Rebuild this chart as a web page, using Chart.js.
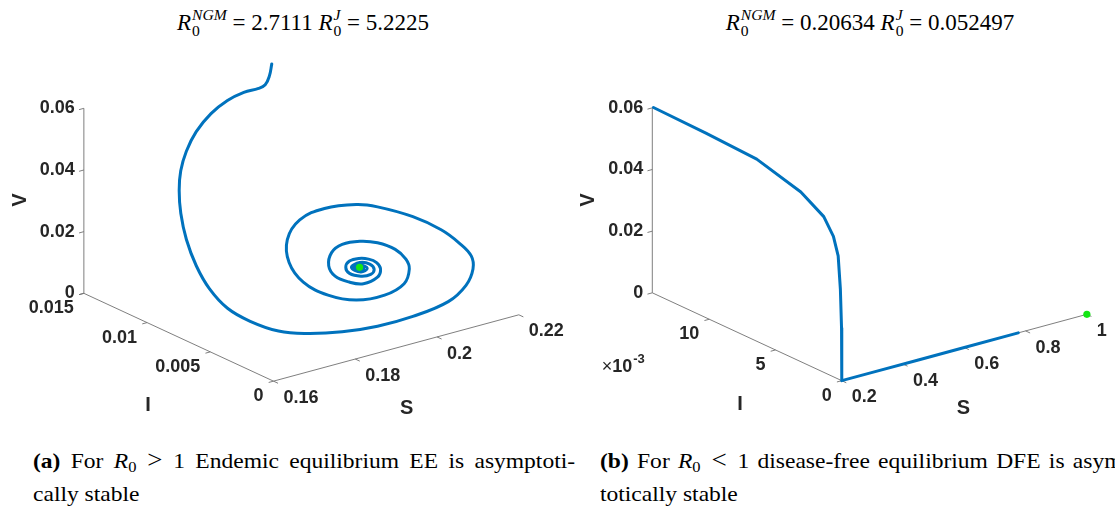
<!DOCTYPE html>
<html>
<head>
<meta charset="utf-8">
<script src="https://cdn.jsdelivr.net/npm/chart.js@4.4.1/dist/chart.umd.min.js"></script>
<style>
  html, body { margin: 0; padding: 0; background: #fff; }
  body { width: 1115px; height: 514px; position: relative; overflow: hidden; }
  canvas { position: absolute; top: 0; }
  #endemic-plot { left: 0; }
  #dfe-plot { left: 575px; }
  .title {
    position: absolute; top: 7px; transform: translateX(-50%);
    font-family: "Liberation Serif", "DejaVu Serif", serif; font-size: 23px;
    line-height: 26px; white-space: nowrap; color: #000;
  }
  .title .eq { margin: 0 0.25em; }
  .ss { display: inline-block; font-size: 0.68em; line-height: 1; vertical-align: -0.34em; margin-left: 1px; }
  .ss > span { display: block; }
  .caption {
    position: absolute; top: 445px; width: 484px;
    transform: scaleX(1.12); transform-origin: left top;
    font-family: "Liberation Serif", "DejaVu Serif", serif; font-size: 21px;
    line-height: 33.4px; white-space: nowrap; color: #000;
  }
  .caption .first { text-align: justify; text-align-last: justify; white-space: normal; }
  .caption .rel { display: inline-block; margin: 0 0.4em; font-size: 1.15em; line-height: 1; }
  .caption sub { font-size: 0.7em; vertical-align: -0.25em; line-height: 0; }
</style>
</head>
<body>
<div class="title" style="left:303px"><i>R</i><span class="ss"><span><i>NGM</i></span><span>0</span></span><span class="eq">=</span>2.7111 <i>R</i><span class="ss"><span><i>J</i></span><span>0</span></span><span class="eq">=</span>5.2225</div>
<div class="title" style="left:870px"><i>R</i><span class="ss"><span><i>NGM</i></span><span>0</span></span><span class="eq">=</span>0.20634 <i>R</i><span class="ss"><span><i>J</i></span><span>0</span></span><span class="eq">=</span>0.052497</div>

<canvas id="endemic-plot" width="575" height="430"></canvas>
<canvas id="dfe-plot" width="540" height="430"></canvas>

<div class="caption" style="left:33px"><div class="first"><b>(a)</b> For <i>R</i><sub>0</sub><span class="rel">&gt;</span>1 Endemic equilibrium EE is asymptoti-</div><div>cally stable</div></div>
<div class="caption" style="left:600px"><div class="first"><b>(b)</b> For <i>R</i><sub>0</sub><span class="rel">&lt;</span>1 disease-free equilibrium DFE is asymp-</div><div>totically stable</div></div>

<script>
// (a) R0 > 1: trajectory in (S, I, V) spiralling into the endemic equilibrium
const endemicS = [0.20382, 0.20213, 0.20017, 0.19809, 0.19448, 0.19001, 0.18506, 0.18006, 0.17579, 0.17256,
  0.16986, 0.16747, 0.16606, 0.16569, 0.16611, 0.16777, 0.17053, 0.17467, 0.17927, 0.1856,
  0.19286, 0.20058, 0.20877, 0.21311, 0.21528, 0.21578, 0.21416, 0.21167, 0.20707, 0.20074,
  0.19695, 0.19102, 0.18636, 0.18425, 0.18422, 0.1863, 0.19003, 0.19463, 0.19923, 0.20261,
  0.20342, 0.20258, 0.2009, 0.19796, 0.19503, 0.19209, 0.1909, 0.19066, 0.19176, 0.19428,
  0.19637, 0.19842, 0.19824, 0.19751, 0.19604, 0.19433, 0.19296, 0.19298, 0.19389, 0.19574,
  0.19722, 0.1976, 0.19652, 0.19457, 0.19368, 0.19551, 0.19638, 0.1948, 0.19394, 0.19529,
  0.19586, 0.19482, 0.19428, 0.19508, 0.19547, 0.19496];
const endemicI = [0.01431, 0.01395, 0.01365, 0.0135, 0.0135, 0.01335, 0.01305, 0.0126, 0.012, 0.0114,
  0.01065, 0.00975, 0.00885, 0.00795, 0.00705, 0.00615, 0.00525, 0.00435, 0.0036, 0.00285,
  0.0024, 0.0021, 0.00195, 0.00195, 0.0021, 0.0024, 0.00285, 0.00345, 0.0042, 0.00495,
  0.0054, 0.006, 0.00645, 0.00675, 0.0066, 0.00615, 0.0054, 0.00465, 0.0039, 0.00345,
  0.0033, 0.0033, 0.0036, 0.00405, 0.0045, 0.00495, 0.0054, 0.00555, 0.0054, 0.0051,
  0.00465, 0.0042, 0.0039, 0.00398, 0.00413, 0.00435, 0.00465, 0.00495, 0.00495, 0.00465,
  0.00435, 0.0042, 0.0042, 0.00435, 0.00473, 0.00458, 0.00435, 0.00443, 0.00458, 0.00455,
  0.00446, 0.00447, 0.00453, 0.00452, 0.00449, 0.0045];
const endemicV = [0.06, 0.0574, 0.0558, 0.05565, 0.05568, 0.05492, 0.053, 0.04982, 0.04613, 0.04206,
  0.03809, 0.03323, 0.02695, 0.02029, 0.01444, 0.00918, 0.00567, 0.00272, 0.00172, 0.00142,
  0.00148, 0.00246, 0.00459, 0.00832, 0.01256, 0.01606, 0.02005, 0.02403, 0.02849, 0.03252,
  0.03379, 0.0335, 0.03059, 0.02441, 0.01729, 0.01103, 0.00686, 0.00504, 0.00641, 0.00977,
  0.01454, 0.01803, 0.02124, 0.02358, 0.02428, 0.02344, 0.02036, 0.01589, 0.01241, 0.01016,
  0.00973, 0.01198, 0.01526, 0.01745, 0.0188, 0.01922, 0.01828, 0.0157, 0.01339, 0.01241,
  0.01302, 0.01483, 0.0169, 0.0178, 0.01581, 0.014, 0.0153, 0.01687, 0.016, 0.01468,
  0.01547, 0.01642, 0.01593, 0.01516, 0.01562, 0.01582];
const endemicEq = [0.19496, 0.0045, 0.01582]; // S*, I*, V*

// (b) R0 < 1: infection and vaccinated class die out, S heads to the DFE
const dfeS = [0.2038, 0.2037, 0.2035, 0.2031, 0.2027, 0.2022, 0.2017, 0.2011, 0.2006, 0.2002, 0.2, 0.3, 0.45, 0.6, 0.776];
const dfeI = [0.0143, 0.01034, 0.0065, 0.00316, 0.00142, 0.00068, 0.00031, 0.00013, 0.00003, 0, 0, 0, 0, 0, 0];
const dfeV = [0.06, 0.0596, 0.0588, 0.0548, 0.0503, 0.0454, 0.0398, 0.0295, 0.017, 0.0059, 0, 0, 0, 0, 0];
const dfeEq = [1, 0, 0];

// axis limits and ticks
const endemicSLim = [0.16, 0.22];
const endemicILim = [0, 0.015];
const dfeSLim = [0.2, 1];
const dfeILim = [0, 0.0143];
const vLim = [0, 0.06];

const endemicSTicks = [0.16, 0.18, 0.2, 0.22];
const endemicITicks = [0, 0.005, 0.01, 0.015];
const endemicITickLabels = ['0', '0.005', '0.01', '0.015'];
const dfeSTicks = [0.2, 0.4, 0.6, 0.8, 1];
const dfeITicks = [0, 0.005, 0.01];
const dfeITickLabels = ['0', '5', '10'];
const vTicks = [0, 0.02, 0.04, 0.06];

const BLUE = '#0072BD';
const GREEN = '#14e614';
const AXIS_GREY = '#707070';
const TEXT = '#262626';

// screen vectors of the full S, I and V ranges (matlab-like 3-D view)
const VIEW = { sx: 248.8, sy: 67.6, ix: -192.3, iy: 89.5, vy: 188.5 };

const project = (panel, S, I, V) => {
  const s = (S - panel.sLim[0]) / (panel.sLim[1] - panel.sLim[0]);
  const i = (I - panel.iLim[0]) / (panel.iLim[1] - panel.iLim[0]);
  const v = (V - vLim[0]) / (vLim[1] - vLim[0]);
  return { x: VIEW.sx * s + VIEW.ix * i, y: VIEW.sy * s + VIEW.iy * i + VIEW.vy * v };
};

const unit = (x, y) => { const n = Math.hypot(x, y); return [x / n, y / n]; };
const outOfS = unit(-VIEW.sx, VIEW.sy);   // ticks on I and V axes
const outOfI = unit(-VIEW.ix, VIEW.iy);   // ticks on S axis
const TICK = 5;

const axesPlugin = (panel) => ({
  id: 'axes3d',
  beforeDatasetsDraw(chart) {
    const { ctx } = chart;
    const xs = chart.scales.x, ys = chart.scales.y;
    const at = (S, I, V) => {
      const p = project(panel, S, I, V);
      return [xs.getPixelForValue(p.x), ys.getPixelForValue(p.y)];
    };
    const seg = (a, b) => {
      ctx.beginPath();
      ctx.moveTo(a[0], a[1]);
      ctx.lineTo(b[0], b[1]);
      ctx.stroke();
    };
    const [S0, S1] = panel.sLim;
    const [I0, I1] = panel.iLim;

    ctx.save();
    ctx.strokeStyle = AXIS_GREY;
    ctx.lineWidth = 0.9;
    seg(at(S0, I1, vLim[0]), at(S0, I1, vLim[1]));
    seg(at(S0, I0, 0), at(S0, I1, 0));
    seg(at(S0, I0, 0), at(S1, I0, 0));

    ctx.fillStyle = TEXT;
    ctx.font = 'bold 18px "Liberation Sans", Arial, sans-serif';
    ctx.textBaseline = 'middle';

    vTicks.forEach((v) => {
      const p = at(S0, I1, v);
      seg(p, [p[0] + outOfS[0] * TICK, p[1] + outOfS[1] * TICK]);
      ctx.textAlign = 'right';
      ctx.fillText(String(v), p[0] - 9, p[1]);
    });
    panel.iTicks.forEach((t, k) => {
      const p = at(S0, t, 0);
      seg(p, [p[0] + outOfS[0] * TICK, p[1] + outOfS[1] * TICK]);
      ctx.textAlign = 'right';
      ctx.fillText(panel.iTickLabels[k], p[0] - 10, p[1] + 15);
    });
    panel.sTicks.forEach((t) => {
      const p = at(t, I0, 0);
      seg(p, [p[0] + outOfI[0] * TICK, p[1] + outOfI[1] * TICK]);
      ctx.textAlign = 'left';
      ctx.fillText(String(t), p[0] + 10, p[1] + 16.7);
    });

    if (panel.exponent) {
      const [ex, ey] = panel.exponent;
      ctx.textAlign = 'left';
      ctx.font = '18px "Liberation Sans", Arial, sans-serif';
      ctx.fillText('\u00d7', ex, ey);
      let w = ctx.measureText('\u00d7').width;
      ctx.font = 'bold 18px "Liberation Sans", Arial, sans-serif';
      ctx.fillText('10', ex + w, ey);
      w += ctx.measureText('10').width;
      ctx.font = 'bold 13px "Liberation Sans", Arial, sans-serif';
      ctx.fillText('-3', ex + w + 1, ey - 8);
    }

    // axis names
    ctx.font = 'bold 20px "Liberation Sans", Arial, sans-serif';
    ctx.textAlign = 'center';
    ctx.fillText('I', panel.iName[0], panel.iName[1]);
    ctx.fillText('S', panel.sName[0], panel.sName[1]);
    ctx.translate(panel.vName[0], panel.vName[1]);
    ctx.rotate(-Math.PI / 2);
    ctx.fillText('V', 0, 0);
    ctx.restore();
  }
});

const buildChart = (canvasId, panel) => {
  const canvas = document.getElementById(canvasId);
  const [cx, cy] = panel.corner;
  const path = panel.S.map((s, k) => project(panel, s, panel.I[k], panel.V[k]));
  const eq = project(panel, panel.eq[0], panel.eq[1], panel.eq[2]);

  return new Chart(canvas, {
    type: 'scatter',
    data: {
      datasets: [{
        data: [eq],
        pointRadius: 3.6,
        pointBackgroundColor: GREEN,
        pointBorderColor: GREEN,
        pointBorderWidth: 0,
        order: 0
      }, {
        data: path,
        showLine: true,
        borderColor: BLUE,
        borderWidth: 3,
        borderCapStyle: 'round',
        borderJoinStyle: 'round',
        pointRadius: 0,
        tension: panel.tension,
        order: 1
      }]
    },
    options: {
      responsive: false,
      animation: false,
      events: [],
      layout: { padding: 0 },
      scales: {
        x: { type: 'linear', display: false, min: -cx, max: canvas.width - cx },
        y: { type: 'linear', display: false, min: -(canvas.height - cy), max: cy }
      },
      plugins: { legend: { display: false }, tooltip: { enabled: false } }
    },
    plugins: [axesPlugin(panel)]
  });
};

buildChart('endemic-plot', {
  S: endemicS, I: endemicI, V: endemicV, eq: endemicEq,
  sLim: endemicSLim, iLim: endemicILim,
  sTicks: endemicSTicks, iTicks: endemicITicks, iTickLabels: endemicITickLabels,
  corner: [273.3, 384.3],
  tension: 0.4,
  vName: [20.8, 200], iName: [148, 405], sName: [406.7, 408.3]
});

buildChart('dfe-plot', {
  S: dfeS, I: dfeI, V: dfeV, eq: dfeEq,
  sLim: dfeSLim, iLim: dfeILim,
  sTicks: dfeSTicks, iTicks: dfeITicks, iTickLabels: dfeITickLabels,
  corner: [266.7, 383.8],
  tension: 0,
  exponent: [26.7, 367],
  vName: [13.3, 200], iName: [165, 404], sName: [388.3, 408.3]
});
</script>
</body>
</html>
